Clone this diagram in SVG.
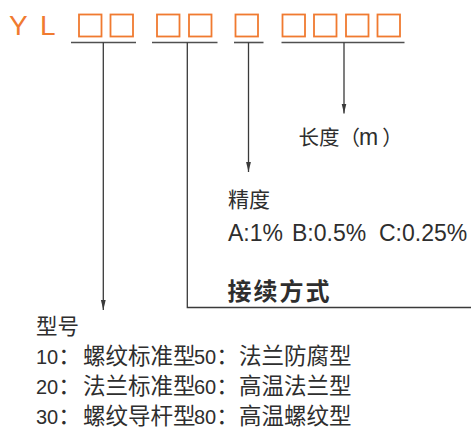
<svg xmlns="http://www.w3.org/2000/svg" width="471" height="428" viewBox="0 0 471 428">
<style>
.bg{fill:#ffffff}
.box{fill:none;stroke:#F07A30;stroke-width:1.8}
.code{font-family:"Liberation Sans","Noto Sans CJK SC",sans-serif;font-size:28px;fill:#F07A30;letter-spacing:2.5px}
.ul{stroke:#505050;stroke-width:1.6;fill:none}
.ln{stroke:#3a3a3a;stroke-width:1.3;fill:none}
.t{font-family:"Noto Sans CJK SC","Liberation Sans",sans-serif;fill:#2e2e2e}
.lat{font-family:"Liberation Sans","Noto Sans CJK SC",sans-serif;fill:#2e2e2e}
</style>
<defs>
<marker id="a2" markerUnits="userSpaceOnUse" markerWidth="10" markerHeight="6" refX="10" refY="3" orient="auto" viewBox="0 0 10 6">
<path d="M0,0.6 L10,3 L0,5.4 Z" fill="#3a3a3a"/>
</marker>
</defs>
<rect class="bg" x="0" y="0" width="471" height="428"/>
<g id="code">
<text class="code" x="9" y="34.5">Y L</text>
<rect class="box" x="79" y="14.5" width="22.5" height="22"/>
<rect class="box" x="110.5" y="14.5" width="22.5" height="22"/>
<rect class="box" x="157" y="14.5" width="22.5" height="22"/>
<rect class="box" x="189" y="14.5" width="22.5" height="22"/>
<rect class="box" x="235.5" y="14.5" width="22.5" height="22"/>
<rect class="box" x="282.5" y="14.5" width="22.5" height="22"/>
<rect class="box" x="314" y="14.5" width="22.5" height="22"/>
<rect class="box" x="346" y="14.5" width="22.5" height="22"/>
<rect class="box" x="377.5" y="14.5" width="22.5" height="22"/>
<line class="ul" x1="71" y1="42.5" x2="136" y2="42.5"/>
<line class="ul" x1="152" y1="42.5" x2="217.5" y2="42.5"/>
<line class="ul" x1="234" y1="42.5" x2="263.5" y2="42.5"/>
<line class="ul" x1="281.5" y1="42.5" x2="404.5" y2="42.5"/>
</g>
<g id="connectors">
<path class="ln" d="M103.3,42.5 V310" marker-end="url(#a2)"/>
<path class="ln" d="M187.3,42.5 V307.5 H471"/>
<path class="ln" d="M248.5,42.5 V172" marker-end="url(#a2)"/>
<path class="ln" d="M344,42.5 V113.5" marker-end="url(#a2)"/>
</g>
<g id="length">
<text class="t" x="298.5" y="145" font-size="20.5">长度（<tspan class="lat" font-size="23" dx="-1">m</tspan><tspan dx="4">）</tspan></text>
</g>
<g id="precision">
<text class="t" x="228" y="206.5" font-size="21">精度</text>
<text class="lat" y="240.5" font-size="23"><tspan x="228">A:1%</tspan> <tspan x="292">B:0.5%</tspan> <tspan x="379">C:0.25%</tspan></text>
</g>
<g id="connection">
<text class="t" x="227.5" y="299.5" font-size="24" font-weight="bold" letter-spacing="2">接续方式</text>
</g>
<g id="model">
<text class="t" x="36" y="333.5" font-size="21.5">型号</text>
<text class="t" y="363.5" font-size="22.5"><tspan class="lat" x="36" font-size="20">10</tspan><tspan>：</tspan><tspan x="83">螺纹标准型</tspan><tspan class="lat" x="194" font-size="20">50</tspan><tspan>：</tspan><tspan x="239">法兰防腐型</tspan></text>
<text class="t" y="394" font-size="22.5"><tspan class="lat" x="36" font-size="20">20</tspan><tspan>：</tspan><tspan x="83">法兰标准型</tspan><tspan class="lat" x="194" font-size="20">60</tspan><tspan>：</tspan><tspan x="239">高温法兰型</tspan></text>
<text class="t" y="423.5" font-size="22.5"><tspan class="lat" x="36" font-size="20">30</tspan><tspan>：</tspan><tspan x="83">螺纹导杆型</tspan><tspan class="lat" x="194" font-size="20">80</tspan><tspan>：</tspan><tspan x="239">高温螺纹型</tspan></text>
</g>
</svg>
